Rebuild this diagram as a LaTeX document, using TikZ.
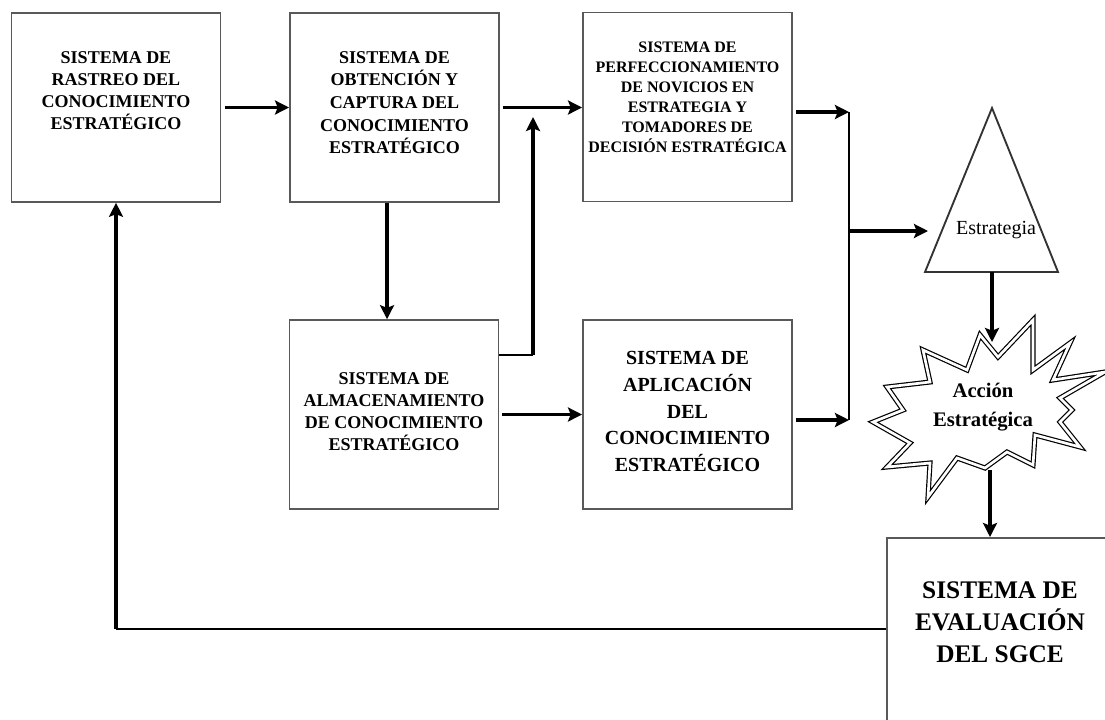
\documentclass[tikz,border=0pt]{standalone}
\usepackage{fontspec}
\setmainfont{Liberation Serif}
\usetikzlibrary{arrows.meta}
\tikzset{
  caja/.style={draw=black!65, line width=1.2pt, fill=white, align=center,
               minimum width=157pt, minimum height=141.75pt, inner sep=2pt},
  flecha/.style={-{Stealth[length=10.5pt,width=10.5pt,inset=2pt]}, line width=2.4pt},
  linea/.style={line width=1.4pt},
  estrella/.style={line width=0.9pt, double=white, double distance=2pt, line join=miter},
  txtmed/.style={font=\fontsize{13.5}{16.5}\selectfont\bfseries},
}
\begin{document}
\begin{tikzpicture}[x=0.75pt,y=-0.75pt]
\clip (0,0) rectangle (1105,719);
\fill[white] (0,0) rectangle (1105,719);
% cajas
\node[caja, txtmed, text depth=25pt] (rastreo) at (116,107.5)
  {SISTEMA DE\\RASTREO DEL\\CONOCIMIENTO\\ESTRATÉGICO};
\node[caja, font=\fontsize{13.5}{17}\selectfont\bfseries, text depth=7.5pt] (obtencion) at (394.5,107.5)
  {SISTEMA DE\\OBTENCIÓN Y\\CAPTURA DEL\\CONOCIMIENTO\\ESTRATÉGICO};
\node[caja, font=\fontsize{12}{15}\selectfont\bfseries, text depth=14pt] (perfec) at (687.5,107)
  {SISTEMA DE\\PERFECCIONAMIENTO\\DE NOVICIOS EN\\ESTRATEGIA Y\\TOMADORES DE\\DECISIÓN ESTRATÉGICA};
\node[caja, txtmed, text depth=4.5pt] (almacen) at (394,414.5)
  {SISTEMA DE\\ALMACENAMIENTO\\DE CONOCIMIENTO\\ESTRATÉGICO};
\node[caja, font=\fontsize{15}{20}\selectfont\bfseries, text depth=4.5pt] (aplic) at (687.5,414.5)
  {SISTEMA DE\\APLICACIÓN\\DEL\\CONOCIMIENTO\\ESTRATÉGICO};
\node[caja, anchor=north west, minimum width=187.5pt, minimum height=172.5pt] (eval) at (886,537) {};
\node[font=\fontsize{19}{24}\selectfont\bfseries, align=center] (evaltxt) at (1000,622)
  {SISTEMA DE\\EVALUACIÓN\\DEL SGCE};

% triangulo y estrella
\coordinate (apice) at (992,108);
\coordinate (tribi) at (925,272);
\coordinate (tribd) at (1058,272);
\coordinate (tribase) at (992,272);
\draw[linea, draw=black!80] (apice) -- (tribi) -- (tribd) -- cycle;
\node[font=\fontsize{15}{18}\selectfont] (estrategia) at (996,230) {Estrategia};

\draw[estrella] (980,335) -- (998,357) -- (1033,320) -- (1033,370) -- (1070,343)
  -- (1053,380) -- (1105,372) -- (1060,398) -- (1072,410) -- (1060,422)
  -- (1080,447) -- (1035,435) -- (1033,465) -- (1007,452) -- (985,468)
  -- (957,458) -- (928,497) -- (930,463) -- (887,467) -- (910,443)
  -- (873,422) -- (903,410) -- (887,387) -- (930,382) -- (923,350)
  -- (967,370) -- cycle;
\node[font=\fontsize{15.5}{21.5}\selectfont\bfseries, align=center] (accion) at (983,407)
  {Acción\\Estratégica};

% conectores
\coordinate (subida) at (533,117);
\coordinate (salida) at (499,355);
\coordinate (bustop) at (849,112);
\coordinate (busbot) at (849,420);
\coordinate (rama) at (849,231);
\coordinate (triizq) at (928,231);
\coordinate (startop) at (992,342);
\coordinate (starbot) at (990,470);
\coordinate (retorno) at (886,629);

\draw[flecha, shorten <=3pt] (rastreo) -- (obtencion);
\draw[flecha, shorten <=2pt] (obtencion.east) -- (obtencion.east -| perfec.west);
\draw[flecha] ([xshift=-5.6pt]obtencion.south) -- ([xshift=-5.6pt]obtencion.south |- almacen.north);
\draw[linea] (salida) -- (salida -| subida);
\draw[flecha] (salida -| subida) -- (subida);
\draw[flecha, shorten <=2pt] (almacen) -- (aplic);
\draw[flecha, shorten <=2pt] (perfec.east |- bustop) -- (bustop);
\draw[flecha, shorten <=2pt] (aplic.east |- busbot) -- (busbot);
\draw[linea] (bustop) -- (busbot);
\draw[flecha] (rama) -- (triizq);
\draw[flecha] (tribase) -- (startop);
\draw[flecha] (starbot) -- (starbot |- eval.north);
\draw[linea] (retorno) -- (retorno -| rastreo.south);
\draw[flecha] (retorno -| rastreo.south) -- (rastreo.south);
\end{tikzpicture}
\end{document}
